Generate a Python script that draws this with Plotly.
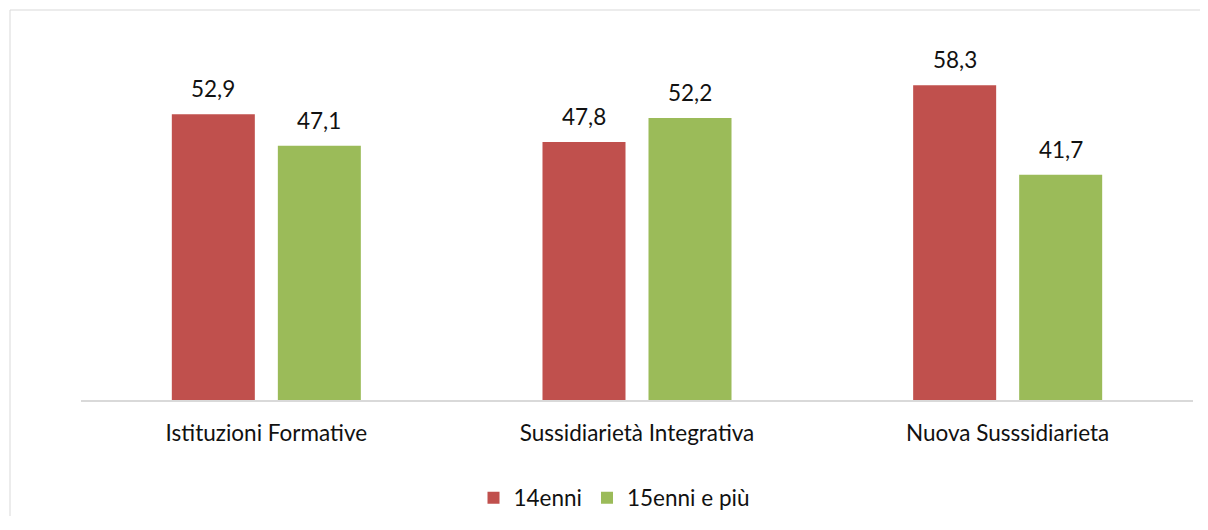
import plotly.graph_objs as go

# categories and series
categories = ["Istituzioni Formative", "Sussidiarietà Integrativa", "Nuova Susssidiarieta"]
series_names = ["14enni", "15enni e più"]
values_14 = [52.9, 47.8, 58.3]
values_15 = [47.1, 52.2, 41.7]
colors = ["#C0504D", "#9BBB59"]

FONT = "Lato"
FS = 22.5
BARGAP = 0.428
GROUPGAP = 0.217

# page body adds an 8px margin, so the figure is a little smaller than the window
W, H = 1192, 508
ML, MR, MT, MB = 73, 7, 14, 116


def fmt(v):
    return f"{v:.1f}".replace(".", ",")


fig = go.Figure()
for name, vals, color in zip(series_names, [values_14, values_15], colors):
    fig.add_trace(go.Bar(x=categories, y=vals, name=name,
                         marker=dict(color=color, line=dict(width=0))))

# data labels above each bar
offset = (1 - BARGAP) / 4
annotations = []
for k, vals in enumerate([values_14, values_15]):
    shift = -offset if k == 0 else offset
    for i, v in enumerate(vals):
        annotations.append(dict(x=i + shift, y=v, text=fmt(v), showarrow=False,
                                xref="x", yref="y", yanchor="bottom", yshift=10,
                                font=dict(family=FONT, size=FS, color="#111111")))

# chart frame: only top and left edges are visible in the original (cut off right/bottom)
pw = W - ML - MR
ph = H - MT - MB
fx0 = (2 - ML) / pw
fx1 = (W + 40 - ML) / pw
fy_top = (H - MB - 2) / ph
fy_bot = -(MB + 40) / ph
frame_style = dict(color="#D9D9D9", width=1)
shapes = [
    dict(type="line", xref="paper", yref="paper", x0=fx0, x1=fx1, y0=fy_top, y1=fy_top,
         line=frame_style, layer="below"),
    dict(type="line", xref="paper", yref="paper", x0=fx0, x1=fx0, y0=fy_bot, y1=fy_top,
         line=frame_style, layer="below"),
]

fig.update_layout(
    width=W, height=H,
    margin=dict(l=ML, r=MR, t=MT, b=MB),
    paper_bgcolor="white", plot_bgcolor="white",
    barmode="group", bargap=BARGAP, bargroupgap=GROUPGAP,
    font=dict(family=FONT, size=FS, color="#111111"),
    xaxis=dict(showline=True, linecolor="#D9D9D9", linewidth=2, ticks="",
               ticklabelstandoff=12, automargin=False,
               tickfont=dict(family=FONT, size=FS, color="#111111"), showgrid=False),
    yaxis=dict(range=[0, 70], visible=False, showgrid=False),
    showlegend=True,
    legend=dict(orientation="h", xref="container", yref="container",
                x=606 / W, xanchor="center",
                y=1 - 490 / H, yanchor="middle",
                font=dict(family=FONT, size=FS, color="#111111")),
    annotations=annotations,
    shapes=shapes,
)

fig.write_html("out.html")
